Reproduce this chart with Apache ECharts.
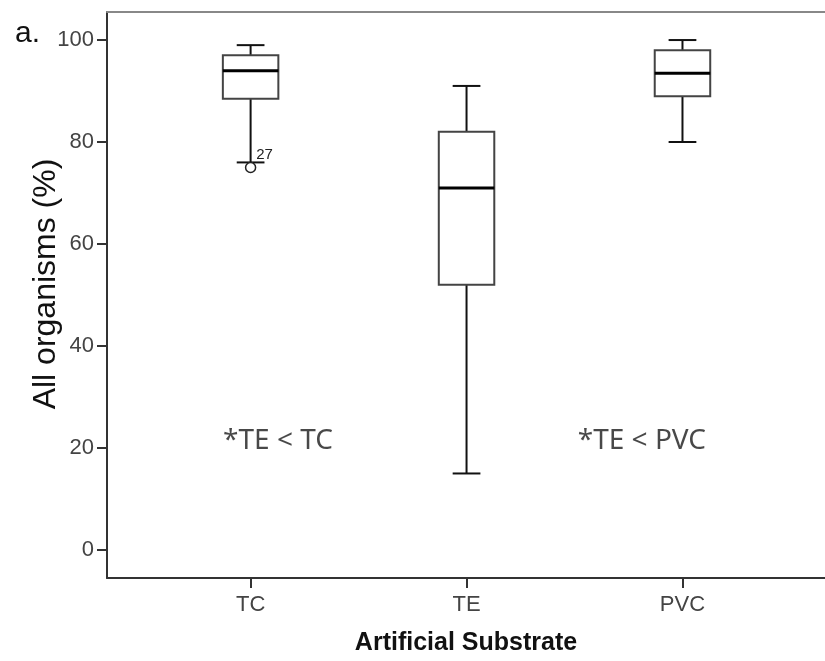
<!DOCTYPE html>
<html lang="en">

<head>
    <meta charset="UTF-8">
    <title>boxplot</title>
    <script src="https://cdn.jsdelivr.net/npm/echarts@6/dist/echarts.min.js"></script>
</head>

<body style="margin:0">
    <div id="box" style="width:825px;height:661px;"></div>
</body>
<script>
    // substrate groups
    const categories = ['TC', 'TE', 'PVC'];
    // box statistics per group
    const lowWhisker = [76, 15, 80];
    const q1 = [88.5, 52, 89];
    const median = [94, 71, 93.5];
    const q3 = [97, 82, 98];
    const highWhisker = [99, 91, 100];
    // outliers: [group position, value, case label]
    const outliers = [[1, 75, '27']];
    // notes written inside the plot: [x, y, text]
    const notes = [[1.127, 21.4, '*TE < TC'], [2.812, 21.4, '*TE < PVC']];
    const yTicks = [0, 20, 40, 60, 80, 100];

    var chart = echarts.init(document.getElementById('box'));

    var boxData = categories.map((c, i) => [i + 1, lowWhisker[i], q1[i], median[i], q3[i], highWhisker[i]]);

    const BOX_W = 0.257;

    function renderBox(params, api) {
        var x = api.value(0);
        var pLow = api.coord([x, api.value(1)]);
        var pQ1 = api.coord([x, api.value(2)]);
        var pMed = api.coord([x, api.value(3)]);
        var pQ3 = api.coord([x, api.value(4)]);
        var pHigh = api.coord([x, api.value(5)]);
        var w = api.size([BOX_W, 0])[0];
        var cx = pMed[0];
        var cap = w / 4;
        var black = { stroke: '#111', lineWidth: 2 };
        return {
            type: 'group',
            children: [
                { type: 'line', shape: { x1: cx, y1: pLow[1], x2: cx, y2: pQ1[1] }, style: black },
                { type: 'line', shape: { x1: cx, y1: pQ3[1], x2: cx, y2: pHigh[1] }, style: black },
                { type: 'line', shape: { x1: cx - cap, y1: pLow[1], x2: cx + cap, y2: pLow[1] }, style: black },
                { type: 'line', shape: { x1: cx - cap, y1: pHigh[1], x2: cx + cap, y2: pHigh[1] }, style: black },
                {
                    type: 'rect',
                    shape: { x: cx - w / 2, y: pQ3[1], width: w, height: pQ1[1] - pQ3[1] },
                    style: { fill: '#fff', stroke: '#444', lineWidth: 2 }
                },
                { type: 'line', shape: { x1: cx - w / 2, y1: pMed[1], x2: cx + w / 2, y2: pMed[1] }, style: { stroke: '#000', lineWidth: 3 } }
            ]
        };
    }

    var options = {
        backgroundColor: '#fff',
        animation: false,
        grid: {
            left: 107,
            top: 12,
            right: 0,
            bottom: 83,
        },
        xAxis: [{
            type: 'value',
            min: 0.335,
            max: 3.66,
            splitLine: { show: false },
            axisLine: { show: true, onZero: false, lineStyle: { color: '#333', width: 2 } },
            axisTick: { show: true, customValues: [1, 2, 3], length: 10, lineStyle: { color: '#333', width: 2 } },
            axisLabel: {
                customValues: [1, 2, 3],
                formatter: v => categories[Math.round(v) - 1],
                margin: 16,
                fontFamily: 'Liberation Sans',
                fontSize: 22,
                color: '#444'
            },
        }, {
            type: 'value',
            position: 'top',
            min: 0.335,
            max: 3.66,
            splitLine: { show: false },
            axisLine: { show: true, onZero: false, lineStyle: { color: '#888', width: 2 } },
            axisTick: { show: false },
            axisLabel: { show: false },
        }],
        yAxis: {
            type: 'value',
            min: -5.5,
            max: 105.5,
            splitLine: { show: false },
            axisLine: { show: true, onZero: false, lineStyle: { color: '#333', width: 2 } },
            axisTick: { show: true, customValues: yTicks, length: 10, lineStyle: { color: '#333', width: 2 } },
            axisLabel: {
                customValues: yTicks,
                margin: 13,
                fontFamily: 'Liberation Sans',
                fontSize: 22,
                color: '#444'
            },
        },
        graphic: [{
            type: 'text',
            x: 15,
            y: 34,
            style: { text: 'a.', font: '30px "Liberation Sans"', fill: '#111', textVerticalAlign: 'middle' }
        }, {
            type: 'text',
            x: 46,
            y: 284,
            rotation: Math.PI / 2,
            style: { text: 'All organisms (%)', font: '32px "Liberation Sans"', fill: '#111', textAlign: 'center', textVerticalAlign: 'middle' }
        }, {
            type: 'text',
            x: 466,
            y: 643,
            style: { text: 'Artificial Substrate', font: 'bold 25px "Liberation Sans"', fill: '#111', textAlign: 'center', textVerticalAlign: 'middle' }
        }],
        series: [{
            name: 'box',
            type: 'custom',
            xAxisIndex: 0,
            renderItem: renderBox,
            encode: { x: 0, y: [1, 2, 3, 4, 5] },
            data: boxData,
            z: 2
        }, {
            name: 'outlier',
            type: 'scatter',
            xAxisIndex: 0,
            symbol: 'circle',
            symbolSize: 10,
            itemStyle: { color: '#fff', borderColor: '#222', borderWidth: 1.5, opacity: 1 },
            label: {
                show: true,
                position: 'inside',
                offset: [14, -13],
                formatter: p => p.data[2],
                fontFamily: 'Liberation Sans',
                fontSize: 15,
                color: '#222'
            },
            data: outliers,
            z: 5
        }, {
            name: 'notes',
            type: 'scatter',
            xAxisIndex: 0,
            symbolSize: 0,
            label: {
                show: true,
                position: 'inside',
                formatter: p => p.data[2],
                fontFamily: 'Noto Sans',
                fontSize: 28,
                color: '#1a1a1a'
            },
            data: notes,
            z: 3
        }]
    }
    chart.setOption(options);
</script>

</html>
